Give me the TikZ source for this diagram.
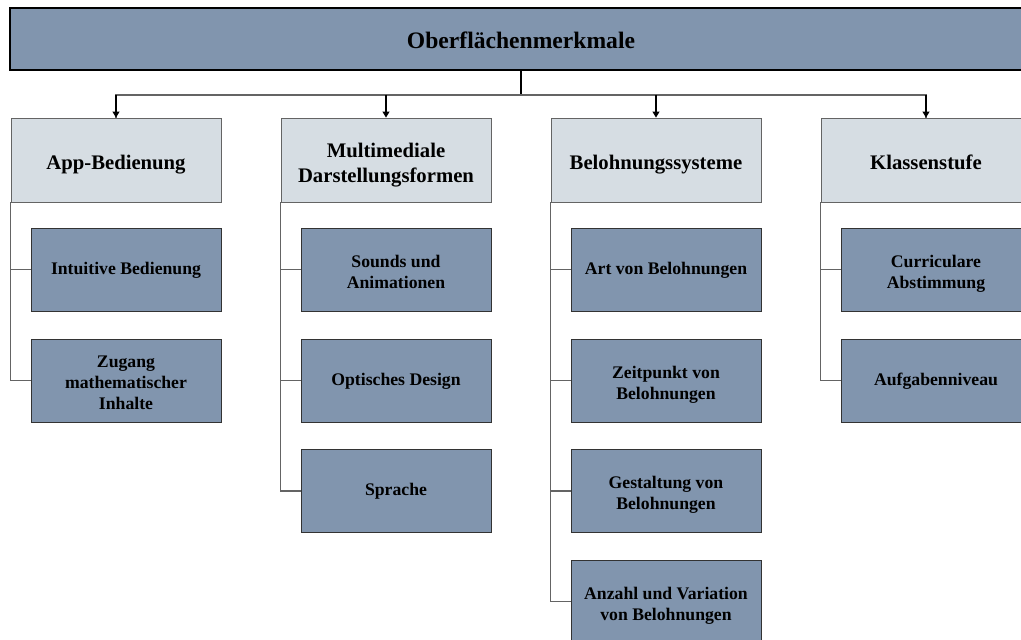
\documentclass[tikz,border=0pt]{standalone}
\usepackage{fontspec}
\setmainfont{Liberation Serif}
\usetikzlibrary{arrows.meta,calc}
\definecolor{slate}{RGB}{129,149,174}
\definecolor{pale}{RGB}{214,221,227}
\definecolor{linegray}{RGB}{100,100,100}
\newcommand\topstrut[1]{\rule{0pt}{#1}}
\tikzset{
  topbox/.style={draw=black,line width=2.6pt,fill=slate,minimum width=1022pt,minimum height=62pt,inner sep=0pt,
    font=\bfseries\fontsize{23.6}{28}\selectfont,
    execute at begin node={\rule[-4pt]{0pt}{27pt}}},
  catbox/.style={draw=linegray,line width=0.9pt,fill=pale,minimum width=210pt,minimum height=84pt,inner sep=0pt,align=center,
    font=\bfseries\fontsize{20.7}{24.3}\selectfont,
    execute at begin node={\rule{0pt}{23pt}},
    execute at end node={\rule[-5pt]{0pt}{5pt}}},
  childbox/.style={draw=black!80,line width=0.9pt,fill=slate,minimum width=190pt,minimum height=83pt,inner sep=0pt,align=center,
    font=\bfseries\fontsize{17.7}{21}\selectfont,
    execute at begin node={\rule{0pt}{14pt}},
    execute at end node={\rule[-4.5pt]{0pt}{4.5pt}}},
  conn/.style={draw=linegray,line width=1.1pt},
  arr/.style={line width=1.1pt,draw=black,-{Triangle[length=6pt,width=7pt]}}
}
\begin{document}
\begin{tikzpicture}[x=1pt,y=-1pt]
\clip (0,0) rectangle (1021,640);
\fill[white] (0,0) rectangle (1021,640);
\node[topbox] (top) at (521,39) {Oberflächenmerkmale};
\coordinate (j) at (521,95);
% categories
\node[catbox] (c1) at (116,160) {App-Bedienung};
\node[catbox] (c2) at (386,160) {\topstrut{25pt}Multimediale\\Darstellungsformen};
\node[catbox] (c3) at (656,160) {Belohnungssysteme};
\node[catbox] (c4) at (926,160) {Klassenstufe};
% children
\node[childbox] (a1) at (126,269.5) {Intuitive Bedienung};
\node[childbox] (a2) at (126,380.5) {\topstrut{21pt}Zugang\\mathematischer\\Inhalte};
\node[childbox] (b1) at (396,269.5) {\topstrut{21pt}Sounds und\\Animationen};
\node[childbox] (b2) at (396,380.5) {Optisches Design};
\node[childbox] (b3) at (396,491) {Sprache};
\node[childbox] (d1) at (666,269.5) {Art von Belohnungen};
\node[childbox] (d2) at (666,380.5) {\topstrut{21pt}Zeitpunkt von\\Belohnungen};
\node[childbox] (d3) at (666,491) {\topstrut{21pt}Gestaltung von\\Belohnungen};
\node[childbox] (d4) at (666,601.5) {\topstrut{21pt}Anzahl und Variation\\von Belohnungen};
\node[childbox] (e1) at (936,269.5) {\topstrut{21pt}Curriculare\\Abstimmung};
\node[childbox] (e2) at (936,380.5) {Aufgabenniveau};
% top connectors
\draw[draw=black,line width=2pt] (top.south) -- (j);
\draw[conn] (j) -| (c1.north);
\draw[conn] (j) -| (c4.north);
\foreach \c in {c1,c2,c3,c4}{
  \draw[arr] ($(\c.north)+(0,-23)$) -- (\c.north);
}
% tree lines
\foreach \c/\last in {c1/a2,c2/b3,c3/d4,c4/e2}{
  \draw[conn] (\c.south west) |- (\last.west);
}
\foreach \c/\k in {c1/a1,c2/b1,c2/b2,c3/d1,c3/d2,c3/d3,c4/e1}{
  \draw[conn] (\c.south west |- \k.west) -- (\k.west);
}
\end{tikzpicture}
\end{document}
